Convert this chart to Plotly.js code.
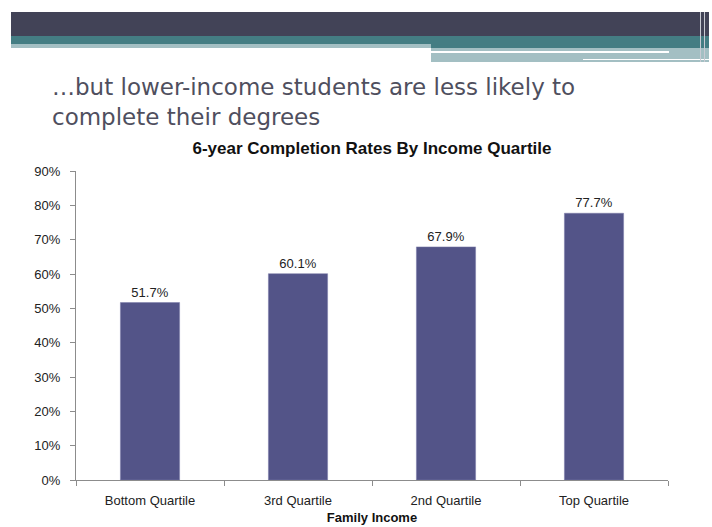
<!DOCTYPE html>
<html>
<head>
<meta charset="utf-8">
<script src="https://cdn.plot.ly/plotly-3.0.1.min.js"></script>
<style>html,body{margin:0;padding:0;background:#fff;}#chart{width:712px;height:527px;}</style>
</head>
<body>
<div id="chart"></div>
<script>
const categories = ["Bottom Quartile", "3rd Quartile", "2nd Quartile", "Top Quartile"];
const rates = [0.517, 0.601, 0.679, 0.777];
const rateLabels = ["51.7%", "60.1%", "67.9%", "77.7%"];
const slideTitle = "…but lower-income students are less likely to<br>complete their degrees";
const chartTitle = "6-year Completion Rates By Income Quartile";
const xTitle = "Family Income";

const W = 712, H = 527;
const M = {l: 76, r: 44, t: 171, b: 47};
const PW = W - M.l - M.r, PH = H - M.t - M.b;
const px = v => (v - M.l) / PW;
const py = v => (H - M.b - v) / PH;

function rect(x0, y0, x1, y1, color) {
  return {type: 'rect', xref: 'paper', yref: 'paper', x0: px(x0), x1: px(x1), y0: py(y1), y1: py(y0),
          fillcolor: color, line: {width: 0}, layer: 'above'};
}

const shapes = [
  rect(11, 12, 712, 36, '#424357'),
  rect(11, 36, 712, 44, '#447d83'),
  rect(11, 44, 431, 48, '#a3bfc3'),
  rect(431, 44, 712, 48, '#447d83'),
  rect(431, 48, 709, 62, '#a3bfc3'),
  rect(431, 51, 669, 53, '#ffffff'),
  rect(583, 59, 709, 60, '#ffffff'),
  rect(700, 12, 701, 62, '#c9cbd3'),
  rect(704, 12, 705, 62, '#c9cbd3'),
  rect(709, 12, 712, 62, '#ffffff')
];

const FONT = 'Liberation Sans, Arial, sans-serif';

const trace = {
  type: 'bar',
  x: categories,
  y: rates,
  text: rateLabels,
  textposition: 'outside',
  cliponaxis: false,
  textfont: {family: FONT, size: 13, color: '#222'},
  marker: {color: '#535488', line: {color: '#7a7ba8', width: 0.5}},
  hoverinfo: 'none'
};

const layout = {
  width: W, height: H,
  margin: M,
  paper_bgcolor: '#fff', plot_bgcolor: '#fff',
  showlegend: false,
  bargap: 0.6,
  font: {family: FONT, size: 13, color: '#222'},
  title: {text: '<b>' + chartTitle + '</b>', x: 372 / W, xanchor: 'center', xref: 'container',
          y: 1 - 148 / H, yanchor: 'middle', yref: 'container',
          font: {family: FONT, size: 17, color: '#111'}},
  xaxis: {
    showline: true, linecolor: '#8c8c8c', linewidth: 1,
    ticks: 'outside', ticklen: 5, tickcolor: '#8c8c8c', tickson: 'boundaries',
    ticklabelstandoff: 8,
    tickfont: {family: FONT, size: 13, color: '#222'},
    title: {text: '<b>' + xTitle + '</b>', standoff: 6, font: {family: FONT, size: 13, color: '#111'}},
    showgrid: false, zeroline: false
  },
  yaxis: {
    range: [0, 0.9], dtick: 0.1, tickformat: '.0%',
    showline: true, linecolor: '#8c8c8c', linewidth: 1,
    ticks: 'outside', ticklen: 5, tickcolor: '#8c8c8c',
    ticklabelstandoff: 7,
    tickfont: {family: FONT, size: 13, color: '#222'},
    showgrid: false, zeroline: false
  },
  shapes: shapes,
  annotations: [{
    text: slideTitle, xref: 'paper', yref: 'paper', x: px(50), y: py(102),
    xanchor: 'left', yanchor: 'middle', align: 'left', showarrow: false,
    font: {family: 'DejaVu Sans, sans-serif', size: 23, color: '#4f4f5e'}
  }]
};

Plotly.newPlot('chart', [trace], layout, {displayModeBar: false, staticPlot: true});
</script>
</body>
</html>
